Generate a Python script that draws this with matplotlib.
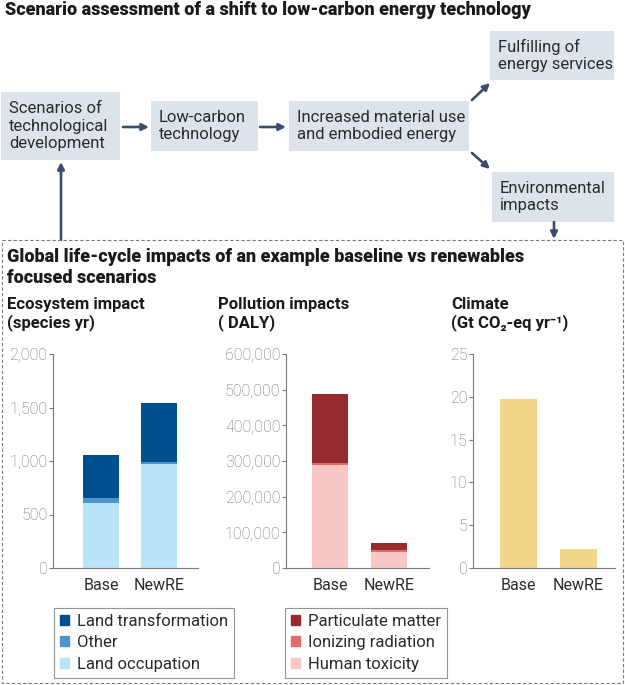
import numpy as np
import matplotlib
matplotlib.use('Agg')
import matplotlib.pyplot as plt
from matplotlib.patches import Rectangle, FancyArrowPatch, Patch

plt.rcParams['font.family'] = ['Roboto', 'DejaVu Sans']

# data
scenarios = ['Base', 'NewRE']
eco_land_occupation = [610, 975]
eco_other = [47, 15]
eco_land_transformation = [403, 550]
pol_human_toxicity = [288000, 45000]
pol_ionizing_radiation = [6000, 5000]
pol_particulate_matter = [194000, 20000]
climate_ghg = [19.7, 2.2]

eco_ticks = [0, 500, 1000, 1500, 2000]
pol_ticks = [0, 100000, 200000, 300000, 400000, 500000, 600000]
cli_ticks = [0, 5, 10, 15, 20, 25]

W, H = 625, 685
BOX = '#dde3ea'
ARROW = '#3a4d6b'
TXT = '#2b2b2b'
TICK = '#6f6f6f'

fig = plt.figure(figsize=(W / 100, H / 100), dpi=100)

# pixel-coordinate overlay for the flow diagram
bg = fig.add_axes([0, 0, 1, 1], zorder=0)
bg.set_xlim(0, W)
bg.set_ylim(H, 0)
bg.axis('off')

bg.text(5, 10, 'Scenario assessment of a shift to low-carbon energy technology',
        fontsize=13, fontweight='heavy', color='#1a1a1a', va='center', ha='left')

boxes = [
    (1, 92, 119, 68, 'Scenarios of\ntechnological\ndevelopment'),
    (151, 101, 107, 50, 'Low-carbon\ntechnology'),
    (289, 101, 180, 50, 'Increased material use\nand embodied energy'),
    (490, 31, 124, 49, 'Fulfilling of\nenergy services'),
    (492, 172, 122, 50, 'Environmental\nimpacts'),
]
for x, y, w, h, label in boxes:
    bg.add_patch(Rectangle((x, y), w, h, facecolor=BOX, edgecolor='none'))
    bg.text(x + 8, y + h / 2, label, fontsize=12, color=TXT, va='center', ha='left',
            linespacing=1.22)

arrows = [
    ((123, 127), (149, 127)),
    ((260, 127), (286, 127)),
    ((472, 100), (490, 83)),
    ((472, 153), (490, 169)),
    ((554, 222), (554, 239)),
    ((61, 240), (61, 162)),
]
for start, end in arrows:
    bg.add_patch(FancyArrowPatch(start, end, arrowstyle='-|>', mutation_scale=10,
                                 color=ARROW, lw=1.9, shrinkA=0, shrinkB=0))

bg.add_patch(Rectangle((2, 240), 621, 443, facecolor='none', edgecolor='#7a7a7a',
                       lw=0.8, linestyle=(0, (3, 2))))

bg.text(7, 267.5, 'Global life-cycle impacts of an example baseline vs renewables\nfocused scenarios',
        fontsize=13, fontweight='heavy', color='#1a1a1a', va='center', ha='left',
        linespacing=1.2)

panel_titles = [
    (7, 'Ecosystem impact\n(species yr)'),
    (218, 'Pollution impacts\n( DALY)'),
    (451, 'Climate\n(Gt CO\u2082-eq yr\u207b\u00b9)'),
]
for x, label in panel_titles:
    bg.text(x, 314, label, fontsize=12, fontweight='bold', color='#1a1a1a',
            va='center', ha='left', linespacing=1.15)


def style_axis(ax, ticks, left, right):
    ax.set_xlim(left, right)
    ax.set_ylim(0, ticks[-1])
    ax.set_yticks(ticks)
    ax.set_yticklabels([f'{t:,}' for t in ticks], fontsize=11.5, color=TICK,
                       fontweight='light')
    ax.set_xticks([0, 1])
    ax.set_xticklabels(scenarios, fontsize=11.5, color=TXT)
    for s in ['top', 'right']:
        ax.spines[s].set_visible(False)
    for s in ['left', 'bottom']:
        ax.spines[s].set_color('#7a7a7a')
        ax.spines[s].set_linewidth(0.8)
    ax.tick_params(axis='y', length=3, width=0.8, color='#7a7a7a', pad=1)
    ax.tick_params(axis='x', length=0, pad=7)
    ax.patch.set_alpha(0)


y0 = 1 - 568 / H
hh = (568 - 354) / H
x = np.arange(len(scenarios))
bw = 0.62

ax1 = fig.add_axes([53 / W, y0, 145 / W, hh])
ax1.bar(x, eco_land_occupation, bw, color='#b9e3f7')
b1 = np.array(eco_land_occupation)
ax1.bar(x, eco_other, bw, bottom=b1, color='#4a97cf')
b1 = b1 + np.array(eco_other)
ax1.bar(x, eco_land_transformation, bw, bottom=b1, color='#00508f')
style_axis(ax1, eco_ticks, -0.83, 1.67)

ax2 = fig.add_axes([286 / W, y0, 143 / W, hh])
ax2.bar(x, pol_human_toxicity, bw, color='#f9c8c4')
b2 = np.array(pol_human_toxicity)
ax2.bar(x, pol_ionizing_radiation, bw, bottom=b2, color='#e06c6c')
b2 = b2 + np.array(pol_ionizing_radiation)
ax2.bar(x, pol_particulate_matter, bw, bottom=b2, color='#962a2e')
style_axis(ax2, pol_ticks, -0.75, 1.68)

ax3 = fig.add_axes([473 / W, y0, 142 / W, hh])
ax3.bar(x, climate_ghg, bw, color='#f2d68a')
style_axis(ax3, cli_ticks, -0.76, 1.61)

leg_kw = dict(frameon=True, fancybox=False, fontsize=12, handlelength=0.55,
              handleheight=0.55, handletextpad=0.45, labelspacing=0.38,
              borderpad=0.36, borderaxespad=0, loc='upper left', labelcolor=TXT)
eco_handles = [Patch(color='#00508f', label='Land transformation'),
               Patch(color='#4a97cf', label='Other'),
               Patch(color='#b9e3f7', label='Land occupation')]
pol_handles = [Patch(color='#962a2e', label='Particulate matter'),
               Patch(color='#e06c6c', label='Ionizing radiation'),
               Patch(color='#f9c8c4', label='Human toxicity')]
for handles, lx in [(eco_handles, 54), (pol_handles, 285)]:
    leg = fig.legend(handles=handles, bbox_to_anchor=(lx / W, 1 - 608 / H), **leg_kw)
    leg.get_frame().set_edgecolor('#7a7a7a')
    leg.get_frame().set_linewidth(0.8)

fig.savefig('out.png', dpi=100)
